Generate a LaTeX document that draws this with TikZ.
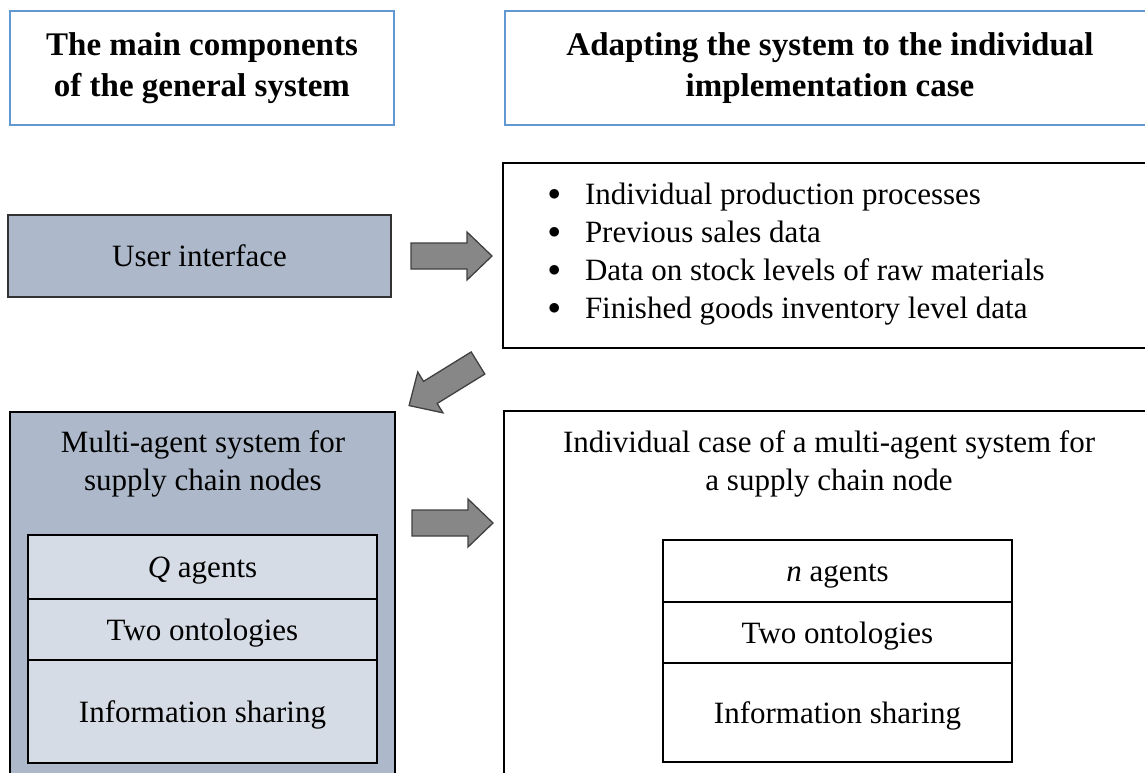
\documentclass[tikz,border=0pt]{standalone}
\usepackage{fontspec}
\setmainfont{Liberation Serif}
\usetikzlibrary{positioning}
\definecolor{headblue}{RGB}{98,152,210}
\definecolor{slatefill}{RGB}{173,185,202}
\definecolor{rowfill}{RGB}{214,220,229}
\definecolor{arrowgray}{RGB}{135,135,135}
\newcommand{\itembullet}{\makebox[37pt][l]{\raisebox{3.5pt}{$\bullet$}}}

\begin{document}
\begin{tikzpicture}[x=1pt,y=-1pt,
  head/.style={draw=headblue,line width=2pt,inner sep=0pt,outer sep=0pt,align=center,font={\fontsize{33}{41}\selectfont\bfseries}},
  box/.style={draw,inner sep=0pt,outer sep=0pt,align=center,font={\fontsize{31}{38}\selectfont}},
  row/.style={box,line width=1.2pt,minimum width=349pt,text height=23pt,text depth=1.5pt},
  bigarrow/.style={draw=black!75,fill=arrowgray,line width=1.3pt,line join=miter}]
\useasboundingbox (0,0) rectangle (1145,772);
\clip (0,0) rectangle (1145,772);

% headings
\node[head,minimum width=384pt,minimum height=114pt] (comp) at (202,68) {The main components\\of the general system};
\node[head,minimum width=650pt,minimum height=114pt] (adapt) at (830,68) {Adapting the system to the individual\\implementation case};

% upper row
\node[box,fill=slatefill,draw=black!80,line width=1.2pt,minimum width=383pt,minimum height=82pt] (ui) at (199.5,256) {User interface};
\node[box,line width=1.2pt,minimum width=652pt,minimum height=185pt] (data) at (829,255.5) {};
\node[box,draw=none,align=left,anchor=west] (items) at (548,254) {\itembullet Individual production processes\\
  \itembullet Previous sales data\\
  \itembullet Data on stock levels of raw materials\\
  \itembullet Finished goods inventory level data};

% general multi-agent system
\node[box,fill=slatefill,line width=2.2pt,minimum width=385pt,minimum height=373pt] (mas) at (202.5,598.5) {};
\node[box,draw=none] (mastitle) at (203,464) {Multi-agent system for\\supply chain nodes};
\node[row,fill=rowfill,minimum height=64pt] (qag) at (202.5,567) {\textit{Q} agents};
\node[row,fill=rowfill,minimum height=61pt,below=0pt of qag] (onto) {Two ontologies};
\node[row,fill=rowfill,minimum height=103pt,below=0pt of onto] (info) {Information sharing};

% individual case
\node[box,line width=2.2pt,minimum width=651pt,minimum height=374pt] (case) at (829.5,598) {};
\node[box,draw=none] (casetitle) at (829,464) {Individual case of a multi-agent system for\\a supply chain node};
\node[row,minimum height=62pt] (nag) at (837.5,571) {\textit{n} agents};
\node[row,minimum height=61pt,below=0pt of nag] (ontocase) {Two ontologies};
\node[row,minimum height=99pt,below=0pt of ontocase] (infocase) {Information sharing};

% block arrows
\foreach \px/\py/\ang in {411/256/0, 478/363/211.7, 412/523/0}
  \draw[bigarrow,shift={(\px,\py)},rotate=\ang] (0,-13) -- (56,-13) -- (56,-24) -- (81,0) -- (56,24) -- (56,13) -- (0,13) -- cycle;
\end{tikzpicture}
\end{document}
